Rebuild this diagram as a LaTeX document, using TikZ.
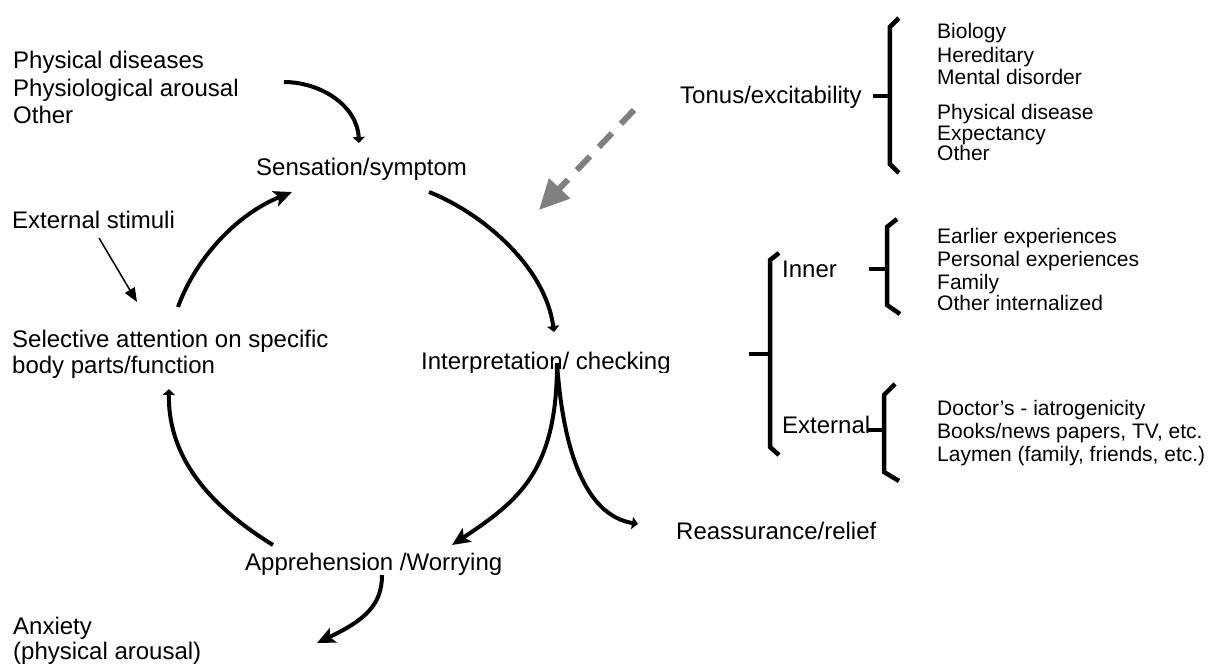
\documentclass[tikz,border=0pt]{standalone}
\usepackage{fontspec}
\setmainfont{Liberation Sans}
\usetikzlibrary{arrows.meta,calc}
\definecolor{dgray}{RGB}{128,128,128}
\begin{document}
\begin{tikzpicture}[x=1pt,y=-1pt,
  lbl/.style={anchor=base west,inner sep=0pt,font=\fontsize{24}{28}\selectfont},
  itm/.style={anchor=base west,inner sep=0pt,font=\fontsize{21}{24}\selectfont},
  flow/.style={line width=4pt},
  bighead/.style={-{Stealth[length=18pt,width=16pt,inset=4pt]}},
  smallhead/.style={-{Triangle[length=6pt,width=12pt]}},
  brk/.style={line width=4.5pt},
]
\useasboundingbox (0,0) rectangle (1217,667);

% main labels
\node[lbl] (phys1) at (13,68) {Physical diseases};
\node[lbl] (phys2) at (13,96) {Physiological arousal};
\node[lbl] (phys3) at (13,123) {Other};
\node[lbl] (sens) at (256,175) {Sensation/symptom};
\node[lbl] (ext) at (12,228) {External stimuli};
\node[lbl] (sel1) at (12,347) {Selective attention on specific};
\node[lbl] (sel2) at (12,373) {body parts/function};
\begin{scope}
  \clip (380,330) rectangle (740,372.5);
  \node[lbl] (interp) at (421,369) {Interpretation/ checking};
\end{scope}
\node[lbl] (appr) at (245,570) {Apprehension /Worrying};
\node[lbl] (reass) at (676,539) {Reassurance/relief};
\node[lbl] (anx1) at (13,634) {Anxiety};
\node[lbl] (anx2) at (13,659) {(physical arousal)};
\node[lbl] (tonus) at (680,103) {Tonus/excitability};
\node[lbl] (inner) at (782,277) {Inner};
\node[lbl] (extern) at (782,433) {External};

% item lists
\node[itm] (t1) at (937,38) {Biology};
\node[itm] (t2) at (937,62) {Hereditary};
\node[itm] (t3) at (937,84) {Mental disorder};
\node[itm] (t4) at (937,119) {Physical disease};
\node[itm] (t5) at (937,140) {Expectancy};
\node[itm] (t6) at (937,160) {Other};
\node[itm] (i1) at (937,243) {Earlier experiences};
\node[itm] (i2) at (937,266) {Personal experiences};
\node[itm] (i3) at (937,289) {Family};
\node[itm] (i4) at (937,310) {Other internalized};
\node[itm] (e1) at (937,415) {Doctor’s - iatrogenicity};
\node[itm] (e2) at (937,438) {Books/news papers, TV, etc.};
\node[itm] (e3) at (937,461) {Laymen (family, friends, etc.)};

% cycle connectors
\draw[flow,smallhead] ([shift={(45,-14)}]phys2.base east) .. controls (320,82) and (357,105) .. ([shift={(103,-32)}]sens.base west);
\draw[flow,bighead] ([shift={(166,-40)}]sel1.base west) .. controls (195,260) and (235,215) .. ([shift={(36,17)}]sens.base west);
\draw[line width=1.5pt,-{Triangle[length=14pt,width=11pt]}] ([shift={(87,10)}]ext.base west) -- ([shift={(125,-45)}]sel1.base west);
\draw[flow,smallhead] ([shift={(173,17)}]sens.base west) .. controls (480,212) and (545,265) .. ([shift={(133,-37)}]interp.base west);
\draw[flow,bighead] ([shift={(136,-6)}]interp.base west) .. controls (557,470) and (520,500) .. ([shift={(207,-25)}]appr.base west);
\draw[flow,smallhead] ([shift={(136,-6)}]interp.base west) .. controls (563,450) and (585,515) .. ([shift={(-38,-15)}]reass.base west);
\draw[flow,smallhead] ([shift={(28,-25)}]appr.base west) .. controls (200,500) and (168,450) .. ([shift={(157,16)}]sel2.base west);
\draw[flow,bighead] ([shift={(137,5)}]appr.base west) .. controls (382,605) and (365,620) .. ([shift={(304,9)}]anx1.base west);

% dashed influence arrow
\coordinate (dtip) at (539,210);
\draw[line width=6pt,dgray,dash pattern=on 19pt off 13pt,-{Triangle[length=30pt,width=28pt]}] ([shift={(-46,7)}]tonus.base west) -- (dtip);

% brackets
\coordinate (tb) at ([shift={(28,-7)}]tonus.base east);
\draw[brk] ([shift={(-17,0)}]tb) -- (tb);
\draw[brk] ([shift={(9,-78)}]tb) -- ([shift={(0,-69)}]tb) -- ([shift={(0,68)}]tb) -- ([shift={(9,77)}]tb);

\coordinate (bb) at ([shift={(-12,77)}]inner.base west);
\draw[brk] ([shift={(-21,0)}]bb) -- (bb);
\draw[brk] ([shift={(9,-101)}]bb) -- ([shift={(0,-94)}]bb) -- ([shift={(0,93)}]bb) -- ([shift={(9,101)}]bb);

\coordinate (ib) at ([shift={(105,-8)}]inner.base west);
\draw[brk] ([shift={(-18,0)}]ib) -- (ib);
\draw[brk] ([shift={(10,-50)}]ib) -- ([shift={(0,-42)}]ib) -- ([shift={(0,36)}]ib) -- ([shift={(13,45)}]ib);

\coordinate (eb) at ([shift={(102,-3)}]extern.base west);
\draw[brk] ([shift={(-17,0)}]eb) -- (eb);
\draw[brk] ([shift={(11,-46)}]eb) -- ([shift={(0,-35)}]eb) -- ([shift={(0,42)}]eb) -- ([shift={(15,51)}]eb);
\end{tikzpicture}
\end{document}
